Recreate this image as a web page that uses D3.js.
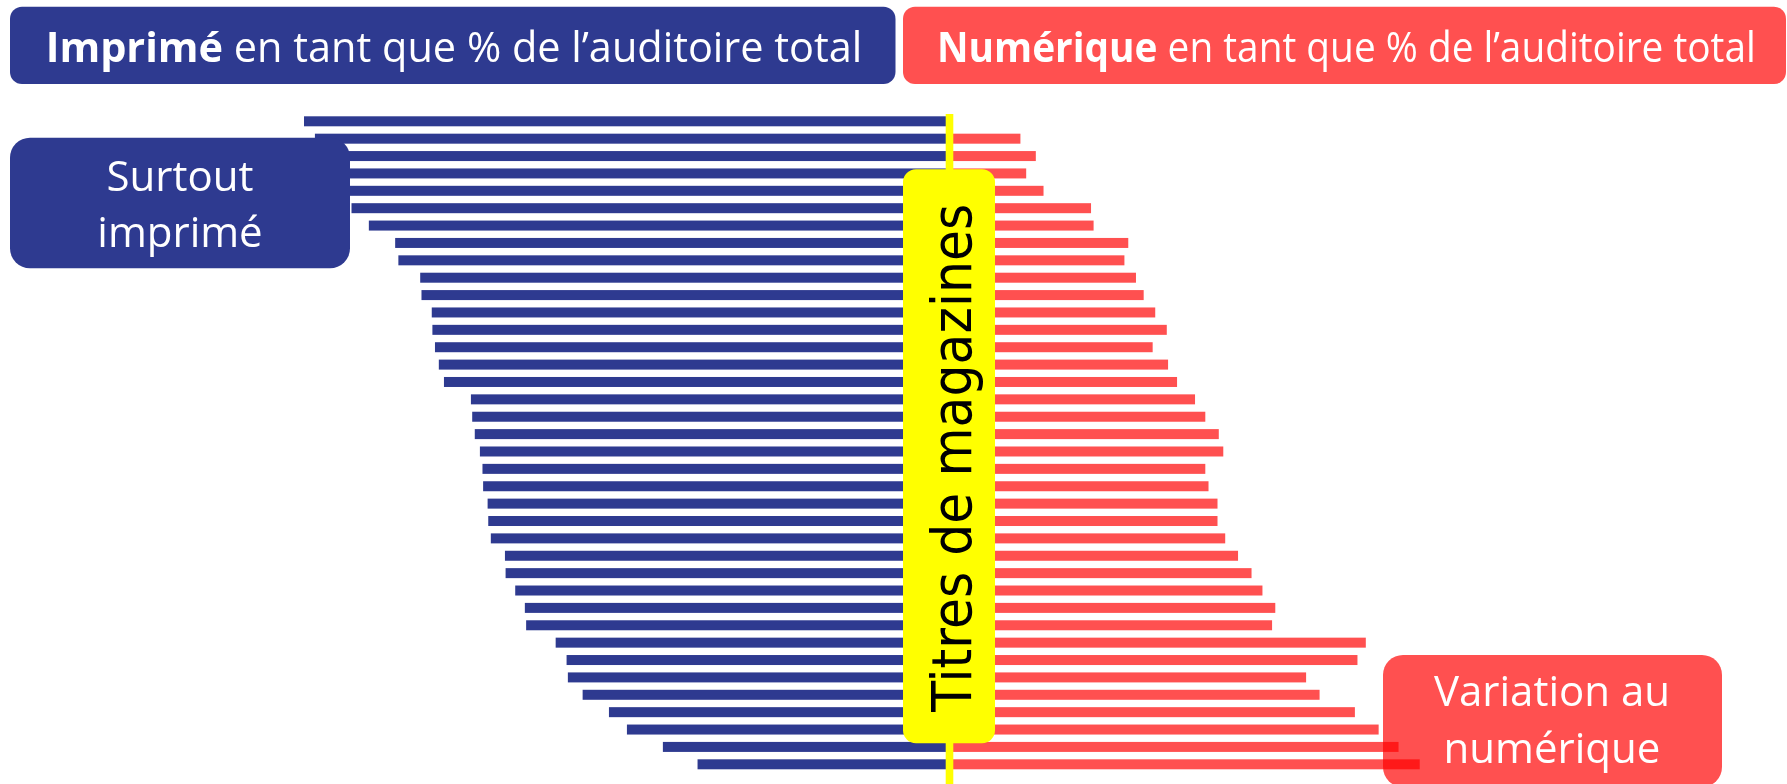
<!DOCTYPE html>
<html>
<head>
<meta charset="utf-8">
<script src="https://cdn.jsdelivr.net/npm/d3@7"></script>
<style>
  body { margin: 0; background: #fff; }
  svg { display: block; }
</style>
</head>
<body>
<svg id="chart" width="1787" height="784"></svg>
<script>
// one row per magazine title, sorted by print share
const titles = d3.range(1, 39).map(i => "Titre " + i);

// % of total audience, print (left, blue)
const printShare = [100.0, 98.3, 96.0, 94.7, 93.6, 92.6, 89.9, 85.8, 85.3, 81.9,
  81.7, 80.1, 80.0, 79.6, 79.0, 78.2, 74.0, 73.8, 73.4, 72.6,
  72.2, 72.1, 71.4, 71.3, 70.9, 68.7, 68.6, 67.1, 65.6, 65.4,
  60.8, 59.1, 58.9, 56.6, 52.5, 49.7, 44.1, 38.7];

// % of total audience, digital (right, red)
const digitalShare = [0, 10.5, 12.9, 11.4, 14.1, 21.5, 21.9, 27.3, 26.7, 28.5,
  29.7, 31.5, 33.3, 31.1, 33.5, 34.9, 37.7, 39.3, 41.4, 42.1,
  39.3, 39.8, 41.2, 41.2, 42.4, 44.4, 46.5, 48.2, 50.2, 49.7,
  64.3, 63.0, 55.0, 57.1, 62.6, 66.3, 69.4, 72.7];

const headerBold = ["Imprimé", "Numérique"];
const headerRest = " en tant que % de l\u2019auditoire total";
const axisLabel = "Titres de magazines";
const printNote = ["Surtout", "imprimé"];
const digitalNote = ["Variation au", "numérique"];

const blue = "#2e3a90", red = "#ff5050", yellow = "#ffff00";
const svg = d3.select("#chart");

const centerX = 949.5;
const blueEnd = 946, redStart = 953;

const x = d3.scaleLinear().domain([0, 100]).range([0, 642]);
const y = d3.scaleBand().domain(titles).range([116.3, 769.3])
  .paddingInner(0.4246).paddingOuter(0);

// squeeze a text horizontally so it spans `width` px (keeps glyph height)
function fitWidth(sel, cx, baseY, width) {
  const w = sel.node().getComputedTextLength();
  const k = Math.min(1, width / w);
  sel.attr("x", 0).attr("y", 0)
    .attr("transform", `translate(${cx},${baseY}) scale(${k},1)`);
}

// bars
svg.append("g").selectAll("rect")
  .data(titles)
  .join("rect")
  .attr("x", (d, i) => blueEnd - x(printShare[i]))
  .attr("y", d => y(d))
  .attr("width", (d, i) => x(printShare[i]))
  .attr("height", y.bandwidth())
  .attr("fill", blue);

svg.append("g").selectAll("rect")
  .data(titles.filter((d, i) => digitalShare[i] > 0))
  .join("rect")
  .attr("x", redStart)
  .attr("y", d => y(d))
  .attr("width", d => x(digitalShare[titles.indexOf(d)]))
  .attr("height", y.bandwidth())
  .attr("fill", red);

// centre line
svg.append("rect")
  .attr("x", centerX - 3.8).attr("y", 114)
  .attr("width", 7.6).attr("height", 680)
  .attr("fill", yellow);

// label box on the centre line
svg.append("rect")
  .attr("x", 903).attr("y", 169.3)
  .attr("width", 92).attr("height", 574)
  .attr("rx", 13).attr("fill", yellow);

const axisText = svg.append("text")
  .attr("font-family", "DejaVu Sans")
  .attr("font-size", 55)
  .attr("fill", "#000")
  .text(axisLabel);
{
  const w = axisText.node().getComputedTextLength();
  const k = Math.min(1, 508 / w);
  axisText.attr("transform", `translate(970.7,711.7) rotate(-90) scale(${k},1)`);
}

// "Surtout imprimé" note
svg.append("rect")
  .attr("x", 10).attr("y", 137.7)
  .attr("width", 340).attr("height", 130.6)
  .attr("rx", 20).attr("fill", blue);

svg.append("g").selectAll("text")
  .data(printNote)
  .join("text")
  .attr("x", 180)
  .attr("y", (d, i) => 190.7 + i * 56.5)
  .attr("text-anchor", "middle")
  .attr("font-family", "Open Sans")
  .attr("font-size", 42)
  .attr("fill", "#fff")
  .text(d => d);

// "Variation au numérique" note (blends over the bars)
svg.append("rect")
  .attr("x", 1383).attr("y", 655)
  .attr("width", 339).attr("height", 132)
  .attr("rx", 20).attr("fill", red)
  .style("mix-blend-mode", "multiply");

svg.append("g").selectAll("text")
  .data(digitalNote)
  .join("text")
  .attr("x", 1552)
  .attr("y", (d, i) => 706 + i * 56.5)
  .attr("text-anchor", "middle")
  .attr("font-family", "Open Sans")
  .attr("font-size", 42)
  .attr("fill", "#fff")
  .text(d => d);

// headers
const headers = [
  { x: 10, w: 885.5, tx: 454, tl: 817, fill: blue },
  { x: 903, w: 883, tx: 1346.4, tl: 819, fill: red }
];

headers.forEach((h, i) => {
  svg.append("rect")
    .attr("x", h.x).attr("y", 6.7)
    .attr("width", h.w).attr("height", 77.3)
    .attr("rx", 12).attr("fill", h.fill);

  const t = svg.append("text")
    .attr("text-anchor", "middle")
    .attr("font-family", "Open Sans")
    .attr("font-size", 42)
    .attr("fill", "#fff");
  t.append("tspan").attr("font-weight", "bold").text(headerBold[i]);
  t.append("tspan").text(headerRest);
  fitWidth(t, h.tx, 61.7, h.tl);
});
</script>
</body>
</html>
